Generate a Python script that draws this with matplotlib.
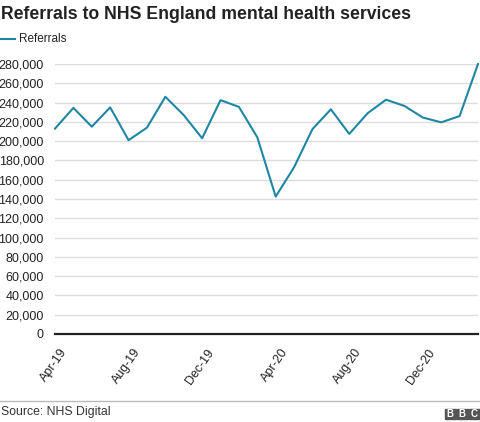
import matplotlib.pyplot as plt
import matplotlib.transforms as mtransforms
from matplotlib.patches import Rectangle
from matplotlib.ticker import FuncFormatter

plt.rcParams['font.family'] = ['Liberation Sans', 'DejaVu Sans']

# === Data (monthly referrals, Apr-19 .. Mar-21) ===
months = ["Apr-19", "May-19", "Jun-19", "Jul-19", "Aug-19", "Sep-19", "Oct-19", "Nov-19",
          "Dec-19", "Jan-20", "Feb-20", "Mar-20", "Apr-20", "May-20", "Jun-20", "Jul-20",
          "Aug-20", "Sep-20", "Oct-20", "Nov-20", "Dec-20", "Jan-21", "Feb-21", "Mar-21"]
referrals = [213000, 234500, 215000, 235000, 201000, 214000, 246000, 227000,
             203000, 242500, 235500, 204000, 142500, 173000, 212500, 233000,
             207500, 229000, 243000, 236500, 224500, 219500, 226000, 280000]
tick_months = ["Apr-19", "Aug-19", "Dec-19", "Apr-20", "Aug-20", "Dec-20"]

W, H = 480, 422
fig = plt.figure(figsize=(W / 100, H / 100), dpi=100)

# axes placed in pixel terms
left, right, top, bottom = 55, 478, 64, 334
ax = fig.add_axes([left / W, 1 - bottom / H, (right - left) / W, (bottom - top) / H])

xs = list(range(len(months)))
ax.plot(xs, referrals, color="#1f86a3", lw=1.5, clip_on=False, zorder=3)

ax.set_xlim(0, len(months) - 1)
ax.set_ylim(0, 280000)
ax.set_yticks(range(0, 280001, 20000))
ax.yaxis.set_major_formatter(FuncFormatter(lambda v, p: f"{int(v):,}"))
ax.set_xticks([months.index(m) for m in tick_months])
ax.set_xticklabels(tick_months, rotation=55, ha="right", rotation_mode="anchor")

ax.tick_params(axis="both", length=0, labelsize=9, colors="#222222")
ax.tick_params(axis="y", pad=8)
ax.tick_params(axis="x", pad=9)
# nudge rotated month labels a little to the right, as in the original
shift = mtransforms.ScaledTranslation(5 / 100, 0, fig.dpi_scale_trans)
for lbl in ax.get_xticklabels():
    lbl.set_transform(lbl.get_transform() + shift)
ax.grid(axis="y", color="#dddddd", lw=1)
ax.set_axisbelow(True)
for s in ["left", "right", "top"]:
    ax.spines[s].set_visible(False)
ax.spines["bottom"].set_color("#222222")
ax.spines["bottom"].set_linewidth(1.6)
ax.spines["bottom"].set_zorder(4)

# title and legend
fig.text(1 / W, 1 - 19 / H, "Referrals to NHS England mental health services",
         fontsize=12.7, fontweight="bold", color="#222222", va="baseline")
fig.add_artist(plt.Line2D([0, 15 / W], [1 - 39 / H, 1 - 39 / H], color="#1f86a3", lw=1.5))
fig.text(19 / W, 1 - 39 / H, "Referrals", fontsize=8.5, color="#222222", va="center")

# footer
fig.add_artist(plt.Line2D([0, 1], [1 - 400.5 / H, 1 - 400.5 / H], color="#bbbbbb", lw=1))
fig.text(1 / W, 1 - 411.5 / H, "Source: NHS Digital", fontsize=8.8, color="#333333", va="center")
for i, letter in enumerate("BBC"):
    x0 = 445 + i * 12
    fig.add_artist(Rectangle((x0 / W, 1 - 419 / H), 10.5 / W, 10.5 / H,
                             color="#555555", transform=fig.transFigure))
    fig.text((x0 + 5.25) / W, 1 - 413.8 / H, letter, fontsize=7, fontweight="bold",
             color="white", ha="center", va="center")

fig.savefig("out.png", dpi=100)
